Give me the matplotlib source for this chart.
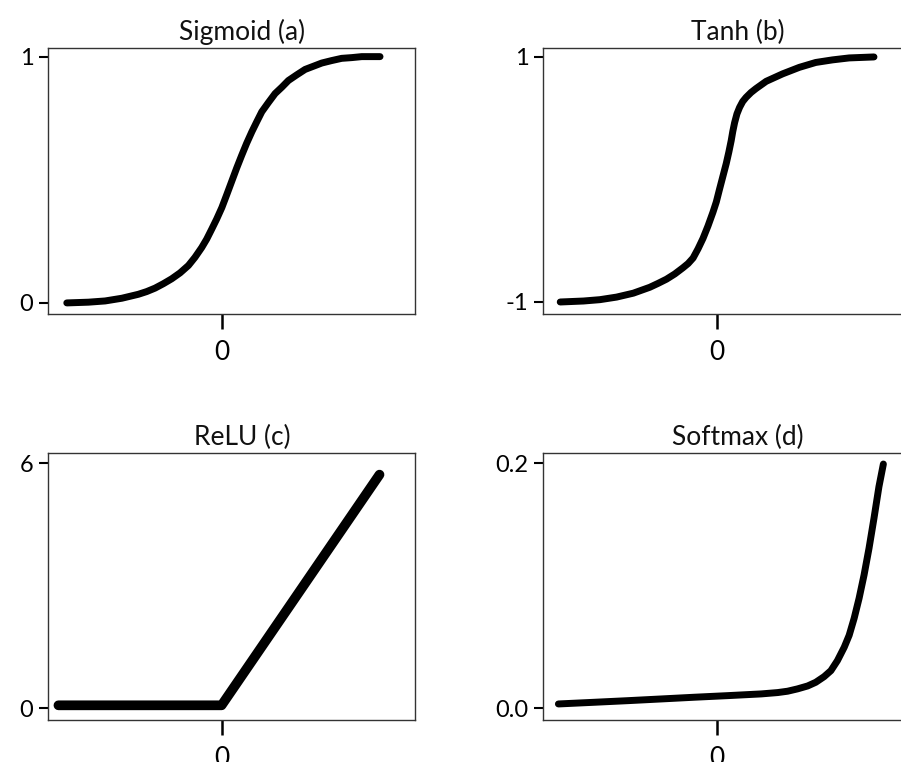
import matplotlib
matplotlib.use("Agg")
import matplotlib.pyplot as plt

plt.rcParams['font.family'] = ['Lato', 'DejaVu Sans']
plt.rcParams['axes.unicode_minus'] = False

# ---- values ----
sig_x = [-5.93, -5.10, -4.46, -3.82, -3.19, -2.87, -2.55, -2.23, -1.91, -1.59, -1.27,
         -1.02, -0.76, -0.57, -0.38, -0.19, 0.01, 0.20, 0.39, 0.58, 0.77, 0.96, 1.16,
         1.35, 1.54, 1.79, 2.05, 2.31, 2.56, 2.88, 3.20, 3.52, 3.84, 4.22, 4.60, 4.99,
         5.37, 5.75, 6.07]
sig_y = [0.0, 0.003, 0.008, 0.019, 0.035, 0.046, 0.060, 0.078, 0.098, 0.122, 0.152,
         0.185, 0.225, 0.259, 0.299, 0.340, 0.387, 0.440, 0.494, 0.548, 0.599, 0.648, 0.695,
         0.736, 0.776, 0.813, 0.850, 0.876, 0.903, 0.926, 0.948, 0.961, 0.974, 0.984, 0.993, 0.996,
         1.0, 1.0, 1.0]

tanh_x = [-5.99, -5.10, -4.47, -3.83, -3.19, -2.56, -2.24, -1.92, -1.60, -1.29, -1.09,
          -0.90, -0.71, -0.52, -0.33, -0.14, -0.01, 0.11, 0.24, 0.37, 0.47, 0.56, 0.62,
          0.69, 0.78, 0.88, 1.00, 1.13, 1.32, 1.51, 1.90, 2.53, 3.17, 3.80, 4.44, 5.08, 6.03]
tanh_y = [-1.0, -0.992, -0.981, -0.960, -0.928, -0.880, -0.848, -0.814, -0.771, -0.721, -0.686,
          -0.641, -0.566, -0.481, -0.380, -0.268, -0.183, -0.082, 0.024, 0.130, 0.224, 0.317, 0.391,
          0.463, 0.535, 0.588, 0.636, 0.670, 0.710, 0.742, 0.801, 0.862, 0.915, 0.955, 0.976, 0.992, 1.0]

relu_x = [-6.25, 0.0, 6.05]
relu_y = [0.07, 0.07, 5.72]

soft_x = [-6.06, -4.66, -3.39, -2.11, -0.84, 0.43, 1.71, 2.34, 2.72, 3.10, 3.49, 3.80,
          4.12, 4.38, 4.63, 4.89, 5.08, 5.27, 5.46, 5.65, 5.84, 6.03, 6.22, 6.39]
soft_y = [0.0035, 0.0049, 0.0062, 0.0076, 0.0090, 0.0103, 0.0117, 0.0128, 0.0139, 0.0158,
          0.0182, 0.0212, 0.0258, 0.0307, 0.0389, 0.0498, 0.0596, 0.0734, 0.0898, 0.1088,
          0.1306, 0.1551, 0.1809, 0.1994]

titles = ['Sigmoid (a)', 'Tanh (b)', 'ReLU (c)', 'Softmax (d)']
yticks = [[0, 1], [-1, 1], [0, 6], [0.0, 0.2]]
yticklabels = [['0', '1'], ['-1', '1'], ['0', '6'], ['0.0', '0.2']]
ylims = [(-0.045, 1.035), (-1.098, 1.073), (-0.29, 6.25), (-0.0096, 0.2084)]
line_widths = [5, 5, 7, 5]

series = [(sig_x, sig_y), (tanh_x, tanh_y), (relu_x, relu_y), (soft_x, soft_y)]

# ---- figure ----
W, H = 901, 762
fig = plt.figure(figsize=(W / 100, H / 100), dpi=100)

# axes boxes in pixels: left, top, right, bottom (right column runs past the edge)
boxes = [(48, 48, 415, 314), (543, 48, 910, 314),
         (48, 453, 415, 720), (543, 453, 910, 720)]

for i, (l, t, r, b) in enumerate(boxes):
    ax = fig.add_axes([l / W, 1 - b / H, (r - l) / W, (b - t) / H])
    x, y = series[i]
    ax.plot(x, y, color='black', lw=line_widths[i],
            solid_capstyle='round', solid_joinstyle='round')
    ax.set_xlim(-6.65, 7.41)
    ax.set_ylim(*ylims[i])
    ax.set_xticks([0])
    ax.set_xticklabels(['0'])
    ax.set_yticks(yticks[i])
    ax.set_yticklabels(yticklabels[i])
    for s in ax.spines.values():
        s.set_color('#333333')
        s.set_linewidth(1.0)
    ax.tick_params(axis='x', length=10.5, width=1.8, pad=8, labelsize=19, color='black')
    ax.tick_params(axis='y', length=6.5, width=1.5, pad=4, labelsize=17, color='black')
    ax.set_title(titles[i], fontsize=19, pad=6, x=0.53, color='#111111')

fig.savefig('out.png', dpi=100)
